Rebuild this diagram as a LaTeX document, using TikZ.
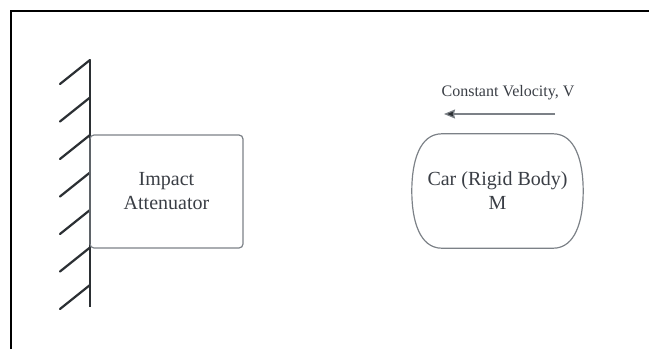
\documentclass[tikz,border=0pt]{standalone}
\usepackage{fontspec}
\setmainfont{Liberation Serif}
\usepackage{xcolor}
\usepackage{tikz}
\usetikzlibrary{arrows.meta, positioning}

\definecolor{inkdark}{HTML}{2B2F33}
\definecolor{textgray}{HTML}{3A3E45}
\definecolor{edgegray}{HTML}{7C8187}

\begin{document}
\begin{tikzpicture}[
    x=1pt, y=-1pt,
    box/.style={draw=edgegray, line width=1.2pt, rounded corners=4pt, minimum width=153pt, minimum height=113pt, font=\fontsize{20}{24}\selectfont, text=textgray, align=center},
    carbody/.style={minimum width=171pt, minimum height=114pt, font=\fontsize{20}{24}\selectfont, text=textgray, align=center, inner sep=0pt},
    outline/.style={draw=edgegray, line width=1.2pt},
    wall/.style={draw=inkdark, line width=2.6pt},
    hatch/.style={draw=inkdark, line width=2.2pt, line cap=round},
    arrow/.style={-{Stealth[length=11pt, width=9pt, inset=1pt, fill=inkdark]}, draw=edgegray, line width=1.2pt},
    label/.style={font=\fontsize{16}{19}\selectfont, text=textgray},
    frame/.style={draw=black, line width=1.6pt}
]
\useasboundingbox (0,0) rectangle (649,349);

% --- Frame ---
\draw[frame] (11,349) -- (11,11) -- (649,11);

% --- Wall ---
\coordinate (walltop) at (90,60);
\coordinate (wallbot) at (90,307);
\draw[wall] (walltop) -- (wallbot);
\foreach \y in {60,97.5,135,172.5,210,247.5,285} {
    \draw[hatch] (90,\y) -- (60,\y+24);
}

% --- Attenuator ---
\node[box] (atten) at (166.5,191.5) {Impact\\Attenuator};

% --- Car ---
\node[carbody] (car) at (497.5,191) {Car (Rigid Body)\\M};
\draw[outline] ([xshift=30pt]car.north west) -- ([xshift=-30pt]car.north east)
    .. controls ([xshift=-8pt]car.north east) and ([yshift=30pt]car.east) .. (car.east)
    .. controls ([yshift=-30pt]car.east) and ([xshift=-8pt]car.south east) .. ([xshift=-30pt]car.south east)
    -- ([xshift=30pt]car.south west)
    .. controls ([xshift=8pt]car.south west) and ([yshift=-30pt]car.west) .. (car.west)
    .. controls ([yshift=30pt]car.west) and ([xshift=8pt]car.north west) .. cycle;
\coordinate (vtail) at (555,114);
\coordinate (vhead) at (444,114);
\draw[arrow] (vtail) -- (vhead);
\node[label] (vlabel) at (508,93) {Constant Velocity, V};

\end{tikzpicture}
\end{document}
